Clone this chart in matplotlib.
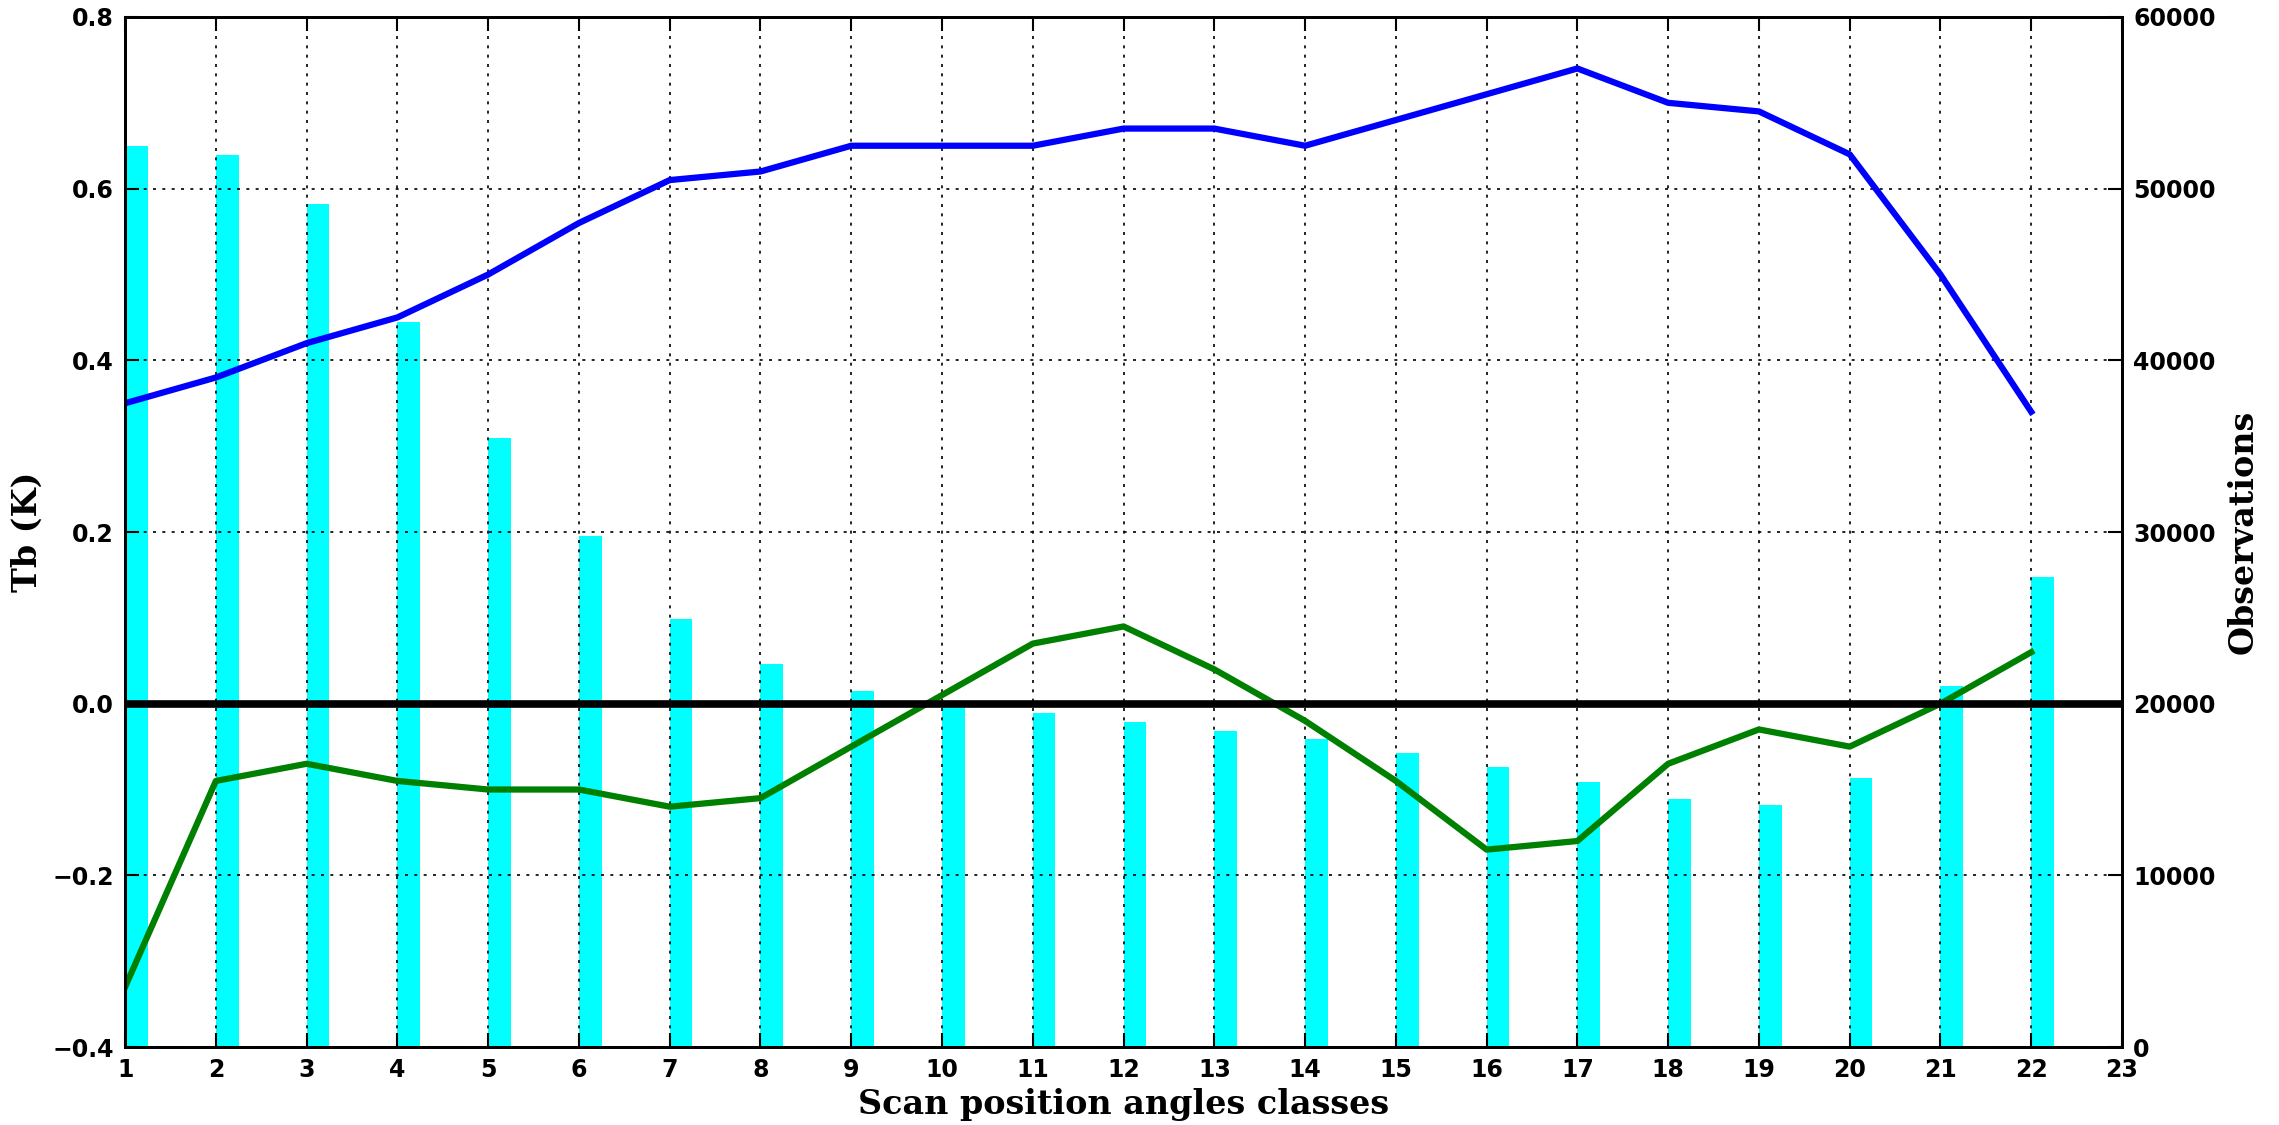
import numpy as np
import matplotlib
matplotlib.use("Agg")
import matplotlib.pyplot as plt

classes = list(range(1, 23))
xticks = list(range(1, 24))

bias_before = [0.35, 0.38, 0.42, 0.45, 0.50, 0.56, 0.61, 0.62, 0.65, 0.65, 0.65,
               0.67, 0.67, 0.65, 0.68, 0.71, 0.74, 0.70, 0.69, 0.64, 0.50, 0.34]
bias_after = [-0.33, -0.09, -0.07, -0.09, -0.10, -0.10, -0.12, -0.11, -0.05, 0.01, 0.07,
              0.09, 0.04, -0.02, -0.09, -0.17, -0.16, -0.07, -0.03, -0.05, 0.00, 0.06]
observations = [52500, 51950, 49100, 42250, 35500, 29750, 24950, 22300, 20720, 19830, 19480,
                18930, 18400, 17920, 17120, 16300, 15440, 14420, 14100, 15650, 21030, 27380]

fig = plt.figure(figsize=(22.79, 11.25), dpi=100)
ax1 = fig.add_axes([0.0549, 0.0693, 0.8762, 0.9156])
ax2 = ax1.twinx()

# observation counts as bars on the right axis
ax2.bar(classes, observations, width=0.25, align="edge", color="cyan", edgecolor="none")
ax2.set_ylim(0, 60000)
ax2.set_yticks(np.arange(0, 60001, 10000))

# keep the lines on top of the bars
ax1.set_zorder(ax2.get_zorder() + 1)
ax1.patch.set_visible(False)
ax1.plot(classes, bias_before, color="blue", lw=4.5)
ax1.plot(classes, bias_after, color="green", lw=4.5)
ax1.axhline(0, color="black", lw=5.5)
ax1.set_xlim(1, 23)
ax1.set_ylim(-0.4, 0.8)
ax1.set_xticks(xticks)
ax1.set_yticks(np.arange(-0.4, 0.81, 0.2))
ax1.grid(True, color="black", linestyle=(0, (1.8, 3.8)), lw=1.2)

for ax in (ax1, ax2):
    ax.tick_params(direction="in", length=10, width=1.5, labelsize=17, pad=8)
    for lab in ax.get_xticklabels() + ax.get_yticklabels():
        lab.set_fontweight("bold")
    for s in ax.spines.values():
        s.set_linewidth(2)
ax1.tick_params(top=True)

ax1.set_xlabel("Scan position angles classes", family="DejaVu Serif", fontweight="bold", fontsize=24, labelpad=4)
ax1.set_ylabel("Tb (K)", family="DejaVu Serif", fontweight="bold", fontsize=24, labelpad=6)
ax2.set_ylabel("Observations", family="DejaVu Serif", fontweight="bold", fontsize=24, labelpad=8)

fig.savefig("out.png")
